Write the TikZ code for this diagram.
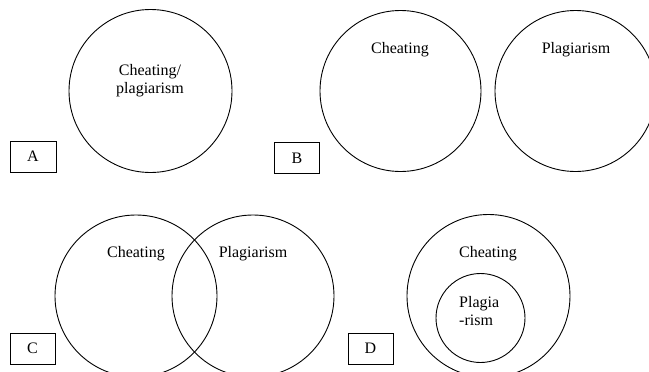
\documentclass[tikz,border=0pt]{standalone}
\usepackage{fontspec}
\setmainfont{Liberation Serif}
\tikzset{
  set/.style={draw, circle, line width=0.9pt, inner sep=0pt},
  tag/.style={draw, line width=0.9pt, minimum width=45pt, minimum height=31pt, inner sep=0pt},
  lbl/.style={font=\fontsize{16}{18}\selectfont, inner sep=0pt}
}
\begin{document}
\begin{tikzpicture}[x=1pt,y=-1pt]
        \clip (0,0) rectangle (649,372);
        % A
        \node[set, minimum size=163pt] (setA) at (150.5,91) {};
        \node[lbl, align=center] (txtA) at (150,81) {Cheating/\\plagiarism};
        \node[tag, lbl, minimum width=46pt] (tagA) at (33,156.5) {A};
        % B
        \node[set, minimum size=161pt] (cheatB) at (400.5,91) {};
        \node[set, minimum size=161pt] (plagB) at (575.5,91) {};
        \node[lbl] (txtcheatB) at (400,50) {Cheating};
        \node[lbl] (txtplagB) at (576,50) {Plagiarism};
        \node[tag, lbl] (tagB) at (297,158) {B};
        % C
        \node[set, minimum size=162pt] (cheatC) at (136,296) {};
        \node[set, minimum size=162pt] (plagC) at (253,296) {};
        \node[lbl] (txtcheatC) at (136,254) {Cheating};
        \node[lbl] (txtplagC) at (253,254) {Plagiarism};
        \node[tag, lbl] (tagC) at (32.5,348.5) {C};
        % D
        \node[set, minimum size=163pt] (cheatD) at (488.5,296) {};
        \node[set, minimum size=89pt] (plagD) at (480.5,318) {};
        \node[lbl] (txtcheatD) at (488,254) {Cheating};
        \node[lbl, align=left, anchor=west] (txtplagD) at (459,311) {Plagia\\-rism};
        \node[tag, lbl] (tagD) at (370.5,348.5) {D};
      \end{tikzpicture}
\end{document}
